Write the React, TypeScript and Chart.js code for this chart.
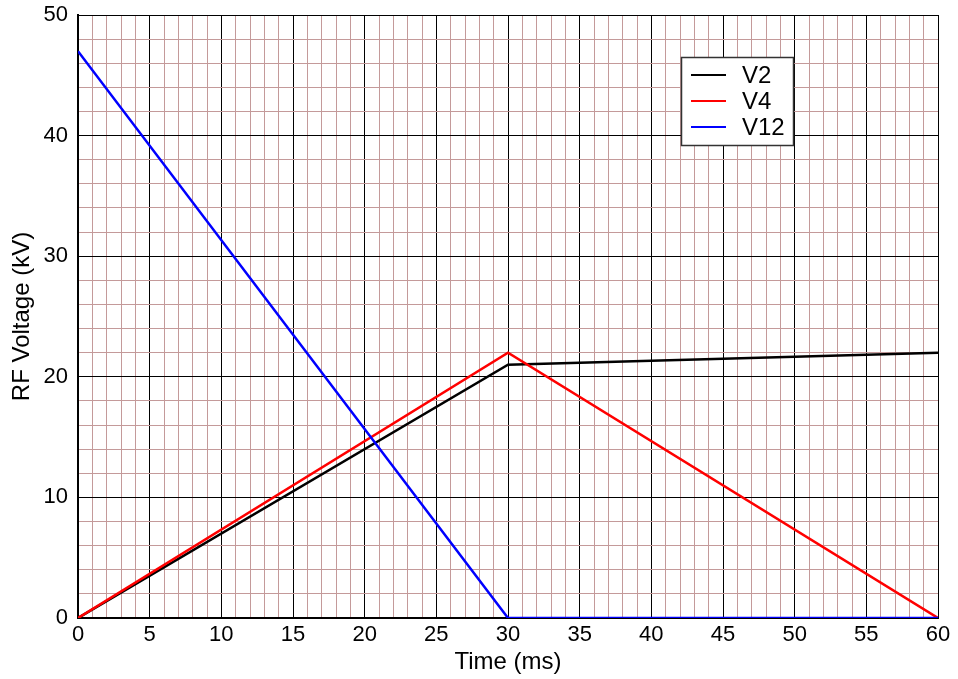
import React, { useEffect, useRef } from "react";
import { Chart, registerables } from "chart.js";

Chart.register(...registerables);

// Time axis (ms) break points and voltages (kV) for each RF channel
const timeMs = [0, 30, 60];
const v2 = [0, 21, 22];
const v4 = [0, 22, 0];
const v12 = [47, 0, 0];

const seriesNames = ["V2", "V4", "V12"];
const seriesColors = ["#000000", "#ff0000", "#0000ff"];

// Axis ranges, minor grid steps and labelled (major) steps
const xMin = 0;
const xMax = 60;
const xMinorStep = 1;
const xMajorStep = 5;
const yMin = 0;
const yMax = 50;
const yMinorStep = 2;
const yMajorStep = 10;

const FONT = "'Liberation Sans', Arial, sans-serif";
const MINOR = "#c49a9a";

const stepTicks = (min: number, max: number, step: number) => {
  const out: { value: number }[] = [];
  for (let v = min; v <= max + 1e-9; v += step) out.push({ value: v });
  return out;
};

// Legend box drawn inside the plot area, top-right
const insideLegend = {
  id: "insideLegend",
  afterDraw(chart: any) {
    const ctx = chart.ctx;
    const bx = 681;
    const by = 57;
    const bw = 112;
    const bh = 88;
    ctx.save();
    ctx.fillStyle = "#ffffff";
    ctx.fillRect(bx, by, bw, bh);
    ctx.strokeStyle = "#333333";
    ctx.lineWidth = 1.5;
    ctx.strokeRect(bx + 0.5, by + 0.5, bw, bh);
    ctx.font = `24px ${FONT}`;
    ctx.textBaseline = "middle";
    ctx.textAlign = "left";
    seriesNames.forEach((name, i) => {
      const y = by + 18 + i * 26;
      ctx.strokeStyle = seriesColors[i];
      ctx.lineWidth = 2;
      ctx.beginPath();
      ctx.moveTo(bx + 10, y);
      ctx.lineTo(bx + 45, y);
      ctx.stroke();
      ctx.fillStyle = "#000000";
      ctx.fillText(name, bx + 61, y + 1);
    });
    ctx.restore();
  },
};

export default function App() {
  const canvasRef = useRef<HTMLCanvasElement | null>(null);

  useEffect(() => {
    if (!canvasRef.current) return;
    const values = [v2, v4, v12];
    const chart = new Chart(canvasRef.current, {
      type: "line",
      data: {
        datasets: values.map((vals, i) => ({
          label: seriesNames[i],
          data: timeMs.map((t, j) => ({ x: t, y: vals[j] })),
          borderColor: seriesColors[i],
          backgroundColor: seriesColors[i],
          borderWidth: 2.5,
          pointRadius: 0,
          tension: 0,
          fill: false,
          order: 3 - i,
        })),
      },
      plugins: [insideLegend],
      options: {
        animation: false,
        responsive: false,
        maintainAspectRatio: false,
        layout: { padding: { left: 0, top: 15, right: 20, bottom: 0 } },
        plugins: {
          legend: { display: false },
          tooltip: { enabled: false },
        },
        scales: {
          x: {
            type: "linear",
            min: xMin,
            max: xMax,
            afterBuildTicks: (scale: any) => {
              scale.ticks = stepTicks(xMin, xMax, xMinorStep);
            },
            afterFit: (scale: any) => {
              scale.height = 61;
              scale.paddingLeft = 0;
              scale.paddingRight = 0;
            },
            ticks: {
              autoSkip: false,
              maxRotation: 0,
              padding: 4,
              color: "#000",
              font: { family: FONT, size: 22 },
              callback: (v: any) => (Number(v) % xMajorStep === 0 ? String(v) : ""),
            },
            grid: {
              drawTicks: false,
              lineWidth: 1,
              color: (c: any) => (c.tick && c.tick.value % xMajorStep === 0 ? "#000000" : MINOR),
            },
            border: { color: "#000", width: 2 },
            title: {
              display: true,
              text: "Time (ms)",
              color: "#000",
              font: { family: FONT, size: 24 },
              padding: { top: 0, bottom: 2 },
            },
          },
          y: {
            type: "linear",
            min: yMin,
            max: yMax,
            afterBuildTicks: (scale: any) => {
              scale.ticks = stepTicks(yMin, yMax, yMinorStep);
            },
            afterFit: (scale: any) => {
              scale.width = 78;
              scale.paddingTop = 0;
              scale.paddingBottom = 0;
            },
            ticks: {
              autoSkip: false,
              padding: 10,
              color: "#000",
              font: { family: FONT, size: 22 },
              callback: (v: any) => (Number(v) % yMajorStep === 0 ? String(v) : ""),
            },
            grid: {
              drawTicks: false,
              lineWidth: 1,
              color: (c: any) => (c.tick && c.tick.value % yMajorStep === 0 ? "#000000" : MINOR),
            },
            border: { color: "#000", width: 2 },
            title: {
              display: true,
              text: "RF Voltage (kV)",
              color: "#000",
              font: { family: FONT, size: 24 },
              padding: { top: 8, bottom: 0 },
            },
          },
        },
      },
    });
    return () => chart.destroy();
  }, []);

  return (
    <div style={{ position: "fixed", left: 0, top: 0, width: 958, height: 679, background: "#fff" }}>
      <canvas ref={canvasRef} width={958} height={679} style={{ display: "block" }} />
    </div>
  );
}
